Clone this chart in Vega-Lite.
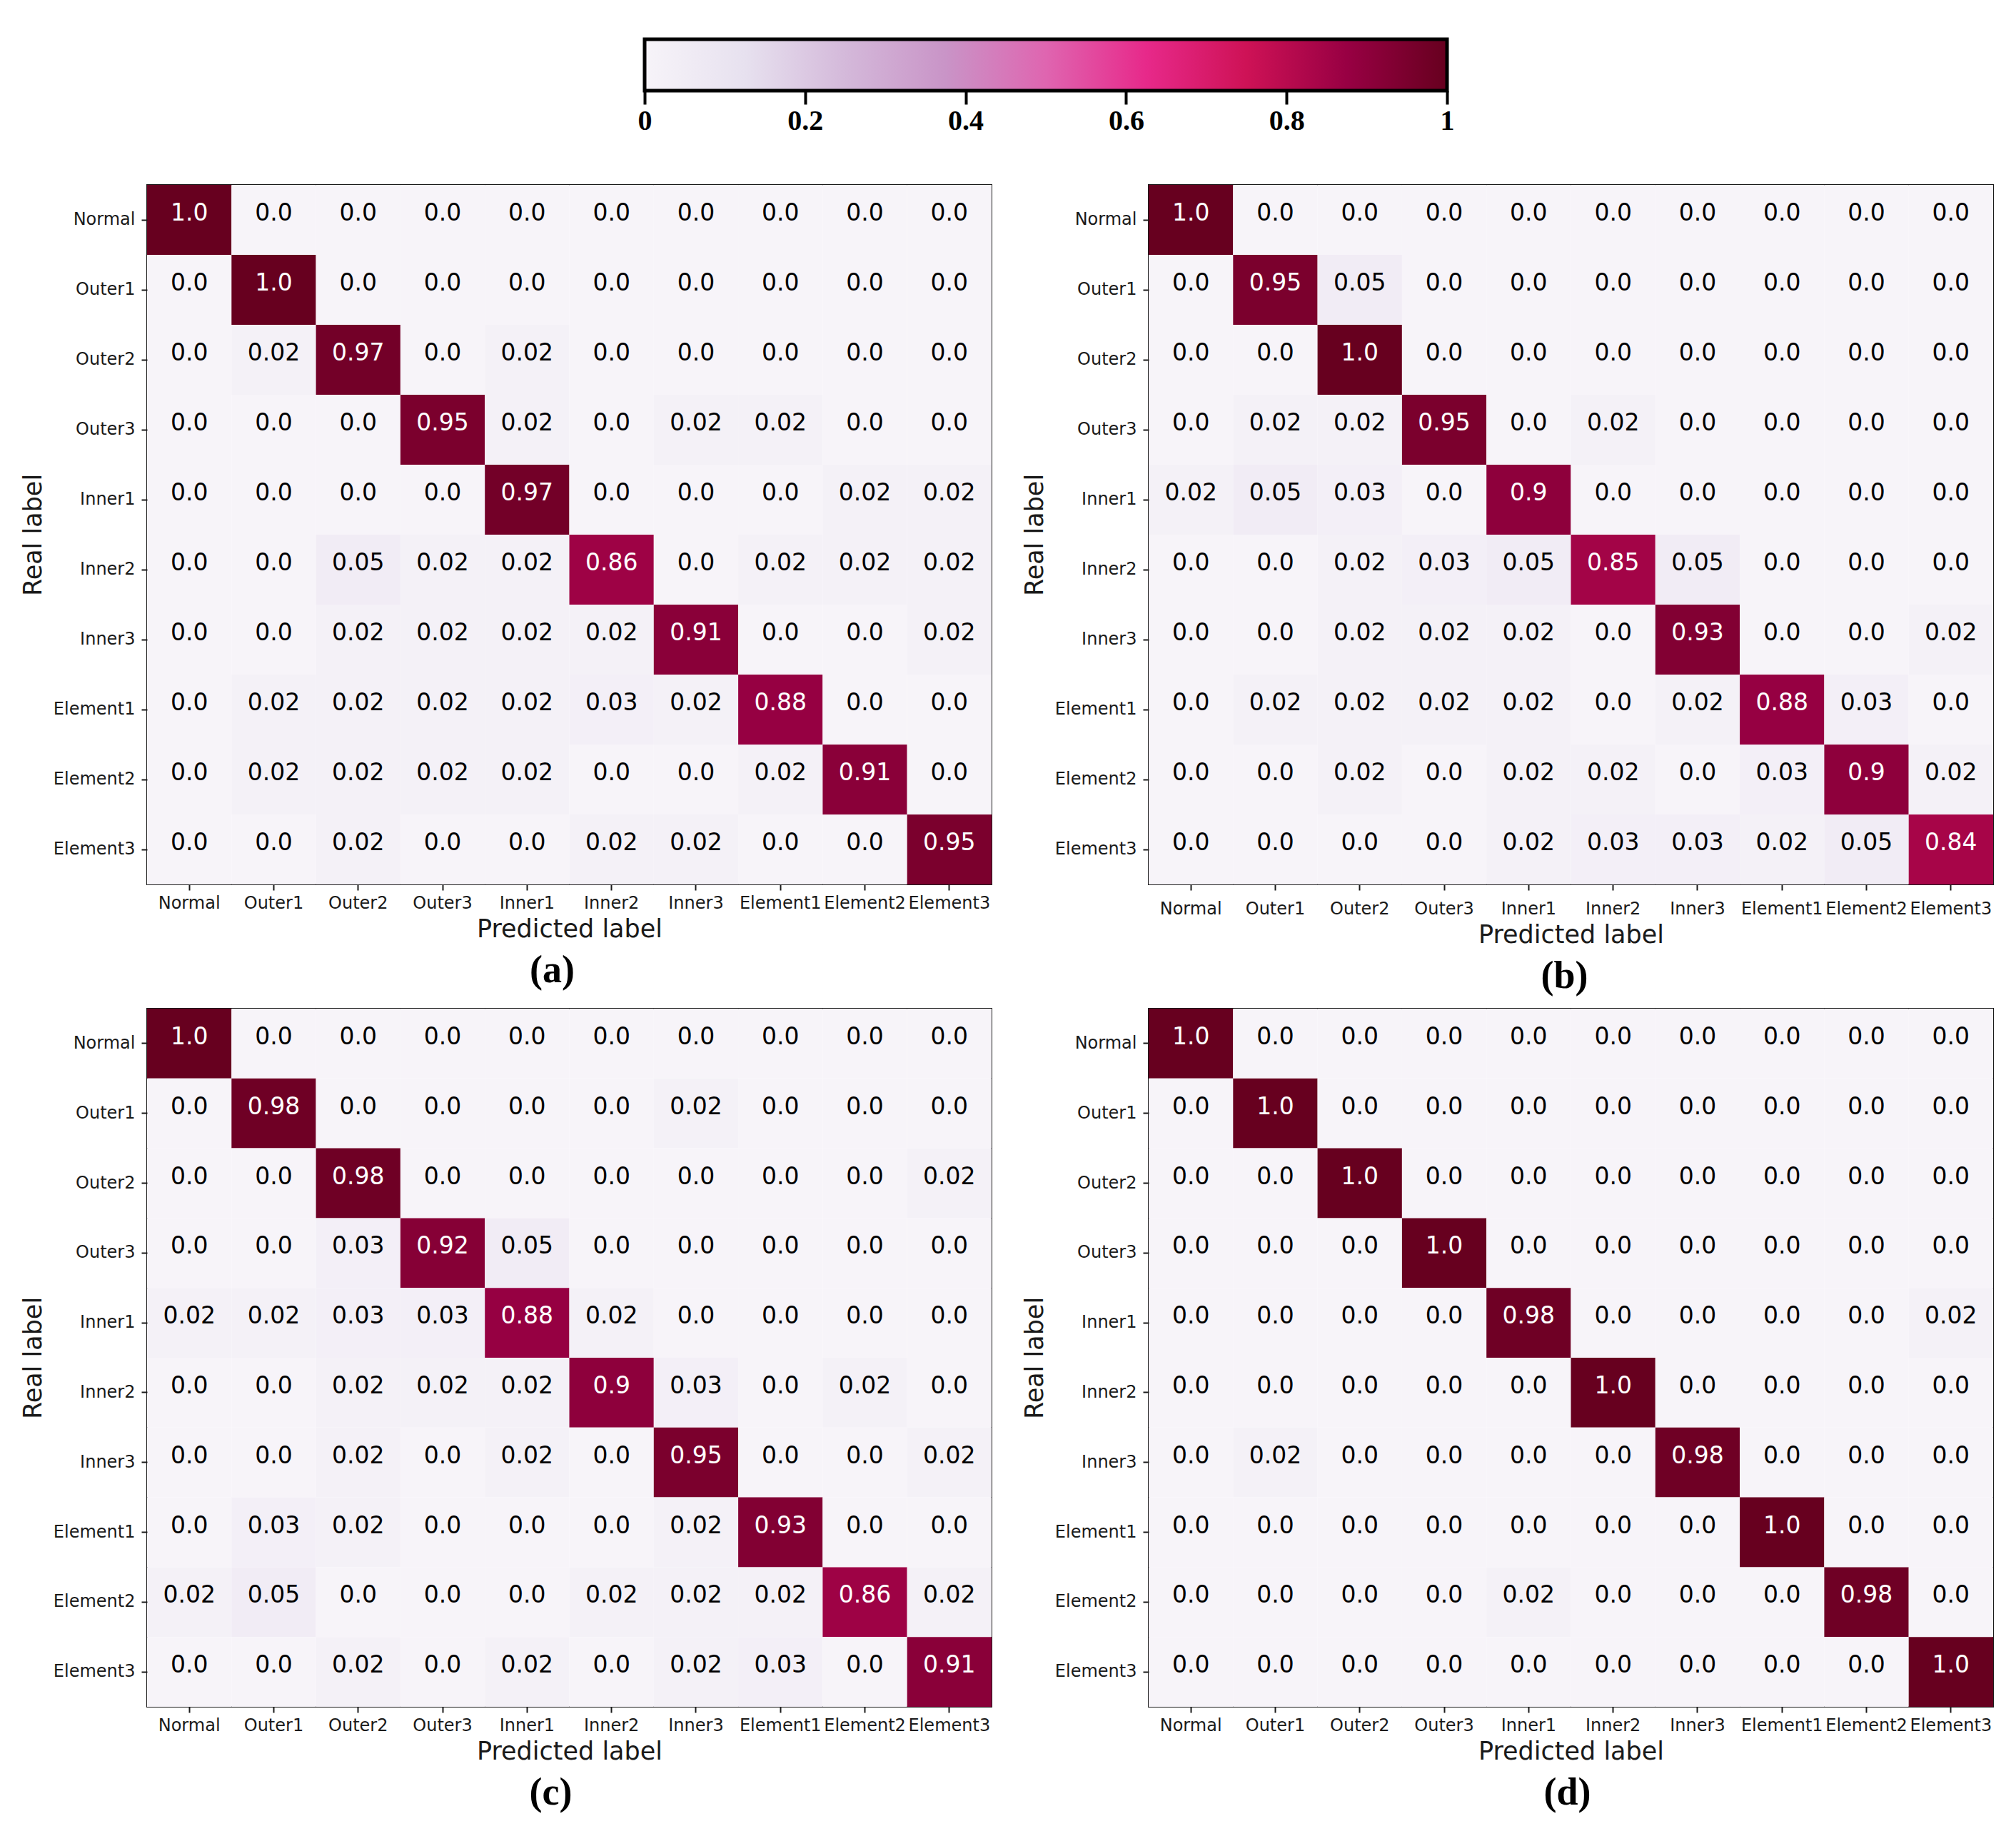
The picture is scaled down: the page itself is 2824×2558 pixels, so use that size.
{
  "$schema": "https://vega.github.io/schema/vega-lite/v6.json",
  "background": "white",
  "padding": {"left": 28, "top": 52, "right": 0, "bottom": 0},
  "data": {"values": [
    {"p":"a","r":"Normal","Normal":1,"Outer1":0,"Outer2":0,"Outer3":0,"Inner1":0,"Inner2":0,"Inner3":0,"Element1":0,"Element2":0,"Element3":0},
    {"p":"a","r":"Outer1","Normal":0,"Outer1":1,"Outer2":0,"Outer3":0,"Inner1":0,"Inner2":0,"Inner3":0,"Element1":0,"Element2":0,"Element3":0},
    {"p":"a","r":"Outer2","Normal":0,"Outer1":0.02,"Outer2":0.97,"Outer3":0,"Inner1":0.02,"Inner2":0,"Inner3":0,"Element1":0,"Element2":0,"Element3":0},
    {"p":"a","r":"Outer3","Normal":0,"Outer1":0,"Outer2":0,"Outer3":0.95,"Inner1":0.02,"Inner2":0,"Inner3":0.02,"Element1":0.02,"Element2":0,"Element3":0},
    {"p":"a","r":"Inner1","Normal":0,"Outer1":0,"Outer2":0,"Outer3":0,"Inner1":0.97,"Inner2":0,"Inner3":0,"Element1":0,"Element2":0.02,"Element3":0.02},
    {"p":"a","r":"Inner2","Normal":0,"Outer1":0,"Outer2":0.05,"Outer3":0.02,"Inner1":0.02,"Inner2":0.86,"Inner3":0,"Element1":0.02,"Element2":0.02,"Element3":0.02},
    {"p":"a","r":"Inner3","Normal":0,"Outer1":0,"Outer2":0.02,"Outer3":0.02,"Inner1":0.02,"Inner2":0.02,"Inner3":0.91,"Element1":0,"Element2":0,"Element3":0.02},
    {"p":"a","r":"Element1","Normal":0,"Outer1":0.02,"Outer2":0.02,"Outer3":0.02,"Inner1":0.02,"Inner2":0.03,"Inner3":0.02,"Element1":0.88,"Element2":0,"Element3":0},
    {"p":"a","r":"Element2","Normal":0,"Outer1":0.02,"Outer2":0.02,"Outer3":0.02,"Inner1":0.02,"Inner2":0,"Inner3":0,"Element1":0.02,"Element2":0.91,"Element3":0},
    {"p":"a","r":"Element3","Normal":0,"Outer1":0,"Outer2":0.02,"Outer3":0,"Inner1":0,"Inner2":0.02,"Inner3":0.02,"Element1":0,"Element2":0,"Element3":0.95},

    {"p":"b","r":"Normal","Normal":1,"Outer1":0,"Outer2":0,"Outer3":0,"Inner1":0,"Inner2":0,"Inner3":0,"Element1":0,"Element2":0,"Element3":0},
    {"p":"b","r":"Outer1","Normal":0,"Outer1":0.95,"Outer2":0.05,"Outer3":0,"Inner1":0,"Inner2":0,"Inner3":0,"Element1":0,"Element2":0,"Element3":0},
    {"p":"b","r":"Outer2","Normal":0,"Outer1":0,"Outer2":1,"Outer3":0,"Inner1":0,"Inner2":0,"Inner3":0,"Element1":0,"Element2":0,"Element3":0},
    {"p":"b","r":"Outer3","Normal":0,"Outer1":0.02,"Outer2":0.02,"Outer3":0.95,"Inner1":0,"Inner2":0.02,"Inner3":0,"Element1":0,"Element2":0,"Element3":0},
    {"p":"b","r":"Inner1","Normal":0.02,"Outer1":0.05,"Outer2":0.03,"Outer3":0,"Inner1":0.9,"Inner2":0,"Inner3":0,"Element1":0,"Element2":0,"Element3":0},
    {"p":"b","r":"Inner2","Normal":0,"Outer1":0,"Outer2":0.02,"Outer3":0.03,"Inner1":0.05,"Inner2":0.85,"Inner3":0.05,"Element1":0,"Element2":0,"Element3":0},
    {"p":"b","r":"Inner3","Normal":0,"Outer1":0,"Outer2":0.02,"Outer3":0.02,"Inner1":0.02,"Inner2":0,"Inner3":0.93,"Element1":0,"Element2":0,"Element3":0.02},
    {"p":"b","r":"Element1","Normal":0,"Outer1":0.02,"Outer2":0.02,"Outer3":0.02,"Inner1":0.02,"Inner2":0,"Inner3":0.02,"Element1":0.88,"Element2":0.03,"Element3":0},
    {"p":"b","r":"Element2","Normal":0,"Outer1":0,"Outer2":0.02,"Outer3":0,"Inner1":0.02,"Inner2":0.02,"Inner3":0,"Element1":0.03,"Element2":0.9,"Element3":0.02},
    {"p":"b","r":"Element3","Normal":0,"Outer1":0,"Outer2":0,"Outer3":0,"Inner1":0.02,"Inner2":0.03,"Inner3":0.03,"Element1":0.02,"Element2":0.05,"Element3":0.84},

    {"p":"c","r":"Normal","Normal":1,"Outer1":0,"Outer2":0,"Outer3":0,"Inner1":0,"Inner2":0,"Inner3":0,"Element1":0,"Element2":0,"Element3":0},
    {"p":"c","r":"Outer1","Normal":0,"Outer1":0.98,"Outer2":0,"Outer3":0,"Inner1":0,"Inner2":0,"Inner3":0.02,"Element1":0,"Element2":0,"Element3":0},
    {"p":"c","r":"Outer2","Normal":0,"Outer1":0,"Outer2":0.98,"Outer3":0,"Inner1":0,"Inner2":0,"Inner3":0,"Element1":0,"Element2":0,"Element3":0.02},
    {"p":"c","r":"Outer3","Normal":0,"Outer1":0,"Outer2":0.03,"Outer3":0.92,"Inner1":0.05,"Inner2":0,"Inner3":0,"Element1":0,"Element2":0,"Element3":0},
    {"p":"c","r":"Inner1","Normal":0.02,"Outer1":0.02,"Outer2":0.03,"Outer3":0.03,"Inner1":0.88,"Inner2":0.02,"Inner3":0,"Element1":0,"Element2":0,"Element3":0},
    {"p":"c","r":"Inner2","Normal":0,"Outer1":0,"Outer2":0.02,"Outer3":0.02,"Inner1":0.02,"Inner2":0.9,"Inner3":0.03,"Element1":0,"Element2":0.02,"Element3":0},
    {"p":"c","r":"Inner3","Normal":0,"Outer1":0,"Outer2":0.02,"Outer3":0,"Inner1":0.02,"Inner2":0,"Inner3":0.95,"Element1":0,"Element2":0,"Element3":0.02},
    {"p":"c","r":"Element1","Normal":0,"Outer1":0.03,"Outer2":0.02,"Outer3":0,"Inner1":0,"Inner2":0,"Inner3":0.02,"Element1":0.93,"Element2":0,"Element3":0},
    {"p":"c","r":"Element2","Normal":0.02,"Outer1":0.05,"Outer2":0,"Outer3":0,"Inner1":0,"Inner2":0.02,"Inner3":0.02,"Element1":0.02,"Element2":0.86,"Element3":0.02},
    {"p":"c","r":"Element3","Normal":0,"Outer1":0,"Outer2":0.02,"Outer3":0,"Inner1":0.02,"Inner2":0,"Inner3":0.02,"Element1":0.03,"Element2":0,"Element3":0.91},

    {"p":"d","r":"Normal","Normal":1,"Outer1":0,"Outer2":0,"Outer3":0,"Inner1":0,"Inner2":0,"Inner3":0,"Element1":0,"Element2":0,"Element3":0},
    {"p":"d","r":"Outer1","Normal":0,"Outer1":1,"Outer2":0,"Outer3":0,"Inner1":0,"Inner2":0,"Inner3":0,"Element1":0,"Element2":0,"Element3":0},
    {"p":"d","r":"Outer2","Normal":0,"Outer1":0,"Outer2":1,"Outer3":0,"Inner1":0,"Inner2":0,"Inner3":0,"Element1":0,"Element2":0,"Element3":0},
    {"p":"d","r":"Outer3","Normal":0,"Outer1":0,"Outer2":0,"Outer3":1,"Inner1":0,"Inner2":0,"Inner3":0,"Element1":0,"Element2":0,"Element3":0},
    {"p":"d","r":"Inner1","Normal":0,"Outer1":0,"Outer2":0,"Outer3":0,"Inner1":0.98,"Inner2":0,"Inner3":0,"Element1":0,"Element2":0,"Element3":0.02},
    {"p":"d","r":"Inner2","Normal":0,"Outer1":0,"Outer2":0,"Outer3":0,"Inner1":0,"Inner2":1,"Inner3":0,"Element1":0,"Element2":0,"Element3":0},
    {"p":"d","r":"Inner3","Normal":0,"Outer1":0.02,"Outer2":0,"Outer3":0,"Inner1":0,"Inner2":0,"Inner3":0.98,"Element1":0,"Element2":0,"Element3":0},
    {"p":"d","r":"Element1","Normal":0,"Outer1":0,"Outer2":0,"Outer3":0,"Inner1":0,"Inner2":0,"Inner3":0,"Element1":1,"Element2":0,"Element3":0},
    {"p":"d","r":"Element2","Normal":0,"Outer1":0,"Outer2":0,"Outer3":0,"Inner1":0.02,"Inner2":0,"Inner3":0,"Element1":0,"Element2":0.98,"Element3":0},
    {"p":"d","r":"Element3","Normal":0,"Outer1":0,"Outer2":0,"Outer3":0,"Inner1":0,"Inner2":0,"Inner3":0,"Element1":0,"Element2":0,"Element3":1}
  ]},
  "spacing": 69,
  "vconcat": [
    {
      "data": {"values": [{"lo": 0, "hi": 1}]},
      "width": 1821,
      "height": 72,
      "view": {"stroke": null},
      "mark": {"type": "rect", "stroke": "black", "strokeWidth": 5,
        "color": {"gradient": "linear", "x1": 0, "x2": 1, "y1": 0, "y2": 0, "stops": [
          {"offset": 0, "color": "#f7f4f9"}, {"offset": 0.125, "color": "#e7e1ef"}, {"offset": 0.25, "color": "#d4b9da"},
          {"offset": 0.375, "color": "#c994c7"}, {"offset": 0.5, "color": "#df65b0"}, {"offset": 0.625, "color": "#e7298a"},
          {"offset": 0.75, "color": "#ce1256"}, {"offset": 0.875, "color": "#980043"}, {"offset": 1, "color": "#67001f"}]}},
      "encoding": {
        "x": {"field": "lo", "type": "quantitative", "scale": {"domain": [-0.6201, 1], "nice": false, "zero": false},
          "axis": {"values": [0, 0.2, 0.4, 0.6, 0.8, 1], "format": "~g", "title": null, "domain": false, "grid": false,
            "tickSize": 19, "tickWidth": 4, "tickColor": "black", "labelFont": "Liberation Serif", "labelFontWeight": "bold",
            "labelFontSize": 40, "labelColor": "black", "labelPadding": 3, "labelFlush": false, "labelAngle": 0}},
        "x2": {"field": "hi"}
      }
    },
    {
      "spacing": 16,
      "vconcat": [
        {
          "spacing": 41,
          "hconcat": [
            {
              "width": 1183, "height": 980,
              "transform": [{"filter": "datum.p == 'a'"}, {"fold": ["Normal","Outer1","Outer2","Outer3","Inner1","Inner2","Inner3","Element1","Element2","Element3"], "as": ["c", "v"]}],
              "encoding": {
                "x": {"field": "c", "type": "nominal", "sort": ["Normal","Outer1","Outer2","Outer3","Inner1","Inner2","Inner3","Element1","Element2","Element3"], "title": "Predicted label", "scale": {"paddingInner": 0, "paddingOuter": 0}},
                "y": {"field": "r", "type": "nominal", "sort": ["Normal","Outer1","Outer2","Outer3","Inner1","Inner2","Inner3","Element1","Element2","Element3"], "title": "Real label", "scale": {"paddingInner": 0, "paddingOuter": 0}}
              },
              "layer": [
                {"mark": "rect", "encoding": {"color": {"field": "v", "type": "quantitative", "scale": {"domain": [0, 0.125, 0.25, 0.375, 0.5, 0.625, 0.75, 0.875, 1], "range": ["#f7f4f9","#e7e1ef","#d4b9da","#c994c7","#df65b0","#e7298a","#ce1256","#980043","#67001f"], "interpolate": "rgb"}, "legend": null}}},
                {"transform": [{"filter": "datum.v == 0 || datum.v == 1"}], "mark": {"type": "text", "fontSize": 33, "dy": -9},
                  "encoding": {"text": {"field": "v", "type": "quantitative", "format": ".1f"}, "color": {"condition": {"test": "datum.v > 0.5", "value": "white"}, "value": "black"}}},
                {"transform": [{"filter": "datum.v > 0 && datum.v < 1"}], "mark": {"type": "text", "fontSize": 33, "dy": -9},
                  "encoding": {"text": {"field": "v", "type": "quantitative", "format": ".2~f"}, "color": {"condition": {"test": "datum.v > 0.5", "value": "white"}, "value": "black"}}}
              ],
              "title": {"text": "(a)", "orient": "bottom", "dx": -24}
            },
            {
              "width": 1183, "height": 980,
              "transform": [{"filter": "datum.p == 'b'"}, {"fold": ["Normal","Outer1","Outer2","Outer3","Inner1","Inner2","Inner3","Element1","Element2","Element3"], "as": ["c", "v"]}],
              "encoding": {
                "x": {"field": "c", "type": "nominal", "sort": ["Normal","Outer1","Outer2","Outer3","Inner1","Inner2","Inner3","Element1","Element2","Element3"], "title": "Predicted label", "scale": {"paddingInner": 0, "paddingOuter": 0}, "axis": {"labelPadding": 14}},
                "y": {"field": "r", "type": "nominal", "sort": ["Normal","Outer1","Outer2","Outer3","Inner1","Inner2","Inner3","Element1","Element2","Element3"], "title": "Real label", "scale": {"paddingInner": 0, "paddingOuter": 0}}
              },
              "layer": [
                {"mark": "rect", "encoding": {"color": {"field": "v", "type": "quantitative", "scale": {"domain": [0, 0.125, 0.25, 0.375, 0.5, 0.625, 0.75, 0.875, 1], "range": ["#f7f4f9","#e7e1ef","#d4b9da","#c994c7","#df65b0","#e7298a","#ce1256","#980043","#67001f"], "interpolate": "rgb"}, "legend": null}}},
                {"transform": [{"filter": "datum.v == 0 || datum.v == 1"}], "mark": {"type": "text", "fontSize": 33, "dy": -9},
                  "encoding": {"text": {"field": "v", "type": "quantitative", "format": ".1f"}, "color": {"condition": {"test": "datum.v > 0.5", "value": "white"}, "value": "black"}}},
                {"transform": [{"filter": "datum.v > 0 && datum.v < 1"}], "mark": {"type": "text", "fontSize": 33, "dy": -9},
                  "encoding": {"text": {"field": "v", "type": "quantitative", "format": ".2~f"}, "color": {"condition": {"test": "datum.v > 0.5", "value": "white"}, "value": "black"}}}
              ],
              "title": {"text": "(b)", "orient": "bottom", "dx": -9}
            }
          ]
        },
        {
          "spacing": 41,
          "hconcat": [
            {
              "width": 1183, "height": 978,
              "transform": [{"filter": "datum.p == 'c'"}, {"fold": ["Normal","Outer1","Outer2","Outer3","Inner1","Inner2","Inner3","Element1","Element2","Element3"], "as": ["c", "v"]}],
              "encoding": {
                "x": {"field": "c", "type": "nominal", "sort": ["Normal","Outer1","Outer2","Outer3","Inner1","Inner2","Inner3","Element1","Element2","Element3"], "title": "Predicted label", "scale": {"paddingInner": 0, "paddingOuter": 0}},
                "y": {"field": "r", "type": "nominal", "sort": ["Normal","Outer1","Outer2","Outer3","Inner1","Inner2","Inner3","Element1","Element2","Element3"], "title": "Real label", "scale": {"paddingInner": 0, "paddingOuter": 0}}
              },
              "layer": [
                {"mark": "rect", "encoding": {"color": {"field": "v", "type": "quantitative", "scale": {"domain": [0, 0.125, 0.25, 0.375, 0.5, 0.625, 0.75, 0.875, 1], "range": ["#f7f4f9","#e7e1ef","#d4b9da","#c994c7","#df65b0","#e7298a","#ce1256","#980043","#67001f"], "interpolate": "rgb"}, "legend": null}}},
                {"transform": [{"filter": "datum.v == 0 || datum.v == 1"}], "mark": {"type": "text", "fontSize": 33, "dy": -9},
                  "encoding": {"text": {"field": "v", "type": "quantitative", "format": ".1f"}, "color": {"condition": {"test": "datum.v > 0.5", "value": "white"}, "value": "black"}}},
                {"transform": [{"filter": "datum.v > 0 && datum.v < 1"}], "mark": {"type": "text", "fontSize": 33, "dy": -9},
                  "encoding": {"text": {"field": "v", "type": "quantitative", "format": ".2~f"}, "color": {"condition": {"test": "datum.v > 0.5", "value": "white"}, "value": "black"}}}
              ],
              "title": {"text": "(c)", "orient": "bottom", "dx": -26}
            },
            {
              "width": 1183, "height": 978,
              "transform": [{"filter": "datum.p == 'd'"}, {"fold": ["Normal","Outer1","Outer2","Outer3","Inner1","Inner2","Inner3","Element1","Element2","Element3"], "as": ["c", "v"]}],
              "encoding": {
                "x": {"field": "c", "type": "nominal", "sort": ["Normal","Outer1","Outer2","Outer3","Inner1","Inner2","Inner3","Element1","Element2","Element3"], "title": "Predicted label", "scale": {"paddingInner": 0, "paddingOuter": 0}},
                "y": {"field": "r", "type": "nominal", "sort": ["Normal","Outer1","Outer2","Outer3","Inner1","Inner2","Inner3","Element1","Element2","Element3"], "title": "Real label", "scale": {"paddingInner": 0, "paddingOuter": 0}}
              },
              "layer": [
                {"mark": "rect", "encoding": {"color": {"field": "v", "type": "quantitative", "scale": {"domain": [0, 0.125, 0.25, 0.375, 0.5, 0.625, 0.75, 0.875, 1], "range": ["#f7f4f9","#e7e1ef","#d4b9da","#c994c7","#df65b0","#e7298a","#ce1256","#980043","#67001f"], "interpolate": "rgb"}, "legend": null}}},
                {"transform": [{"filter": "datum.v == 0 || datum.v == 1"}], "mark": {"type": "text", "fontSize": 33, "dy": -9},
                  "encoding": {"text": {"field": "v", "type": "quantitative", "format": ".1f"}, "color": {"condition": {"test": "datum.v > 0.5", "value": "white"}, "value": "black"}}},
                {"transform": [{"filter": "datum.v > 0 && datum.v < 1"}], "mark": {"type": "text", "fontSize": 33, "dy": -9},
                  "encoding": {"text": {"field": "v", "type": "quantitative", "format": ".2~f"}, "color": {"condition": {"test": "datum.v > 0.5", "value": "white"}, "value": "black"}}}
              ],
              "title": {"text": "(d)", "orient": "bottom", "dx": -5}
            }
          ]
        }
      ]
    }
  ],
  "config": {
    "view": {"stroke": "#1a1a1a", "strokeWidth": 2},
    "text": {"font": "DejaVu Sans"},
    "axis": {"labelFont": "DejaVu Sans", "labelFontSize": 24, "labelColor": "#1a1a1a", "titleFont": "DejaVu Sans", "titleFontSize": 35,
      "titleFontWeight": "normal", "titleColor": "#1a1a1a", "tickColor": "#1a1a1a", "tickSize": 8, "tickWidth": 2, "domain": false,
      "grid": false, "labelAngle": 0, "labelOverlap": false, "labelBound": false},
    "axisX": {"labelPadding": 6, "titlePadding": 7},
    "axisY": {"labelPadding": 9, "titlePadding": 10},
    "title": {"font": "Liberation Serif", "fontWeight": "bold", "fontSize": 54, "color": "black", "anchor": "middle", "offset": 14}
  }
}
